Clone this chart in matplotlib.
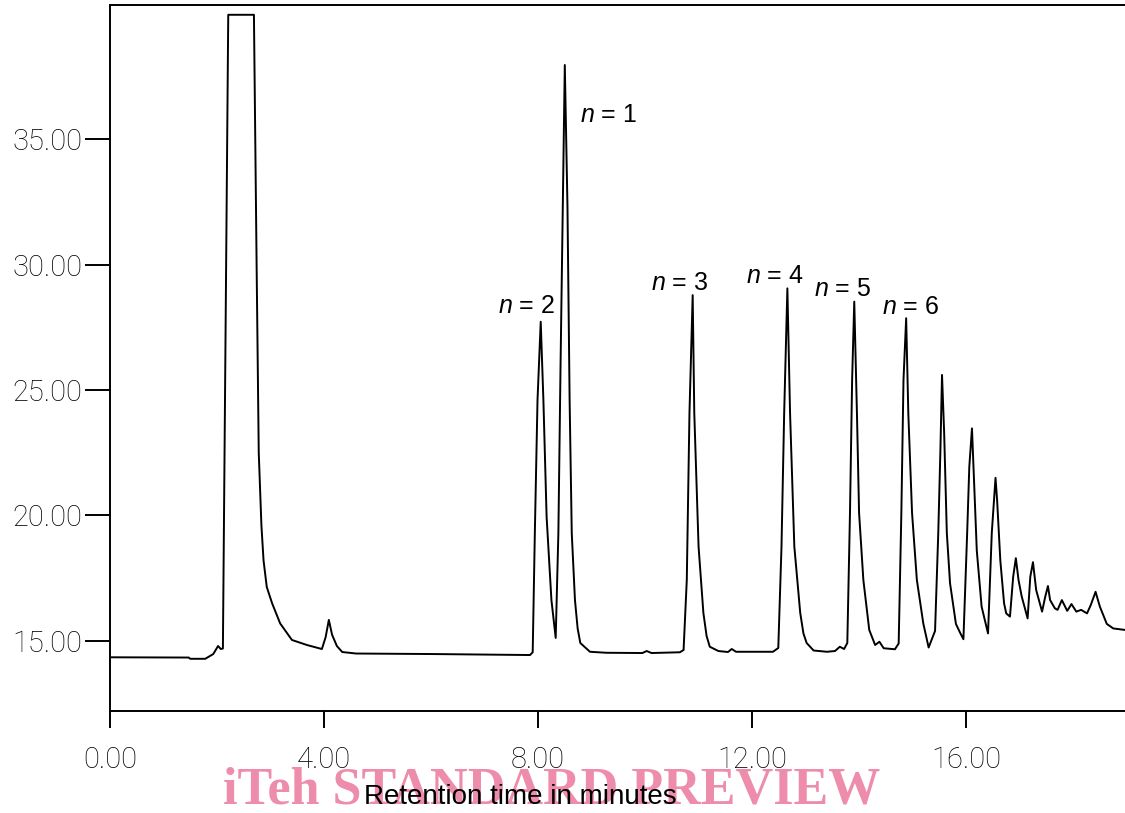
import matplotlib
matplotlib.use("Agg")
import matplotlib.pyplot as plt

plt.rcParams["mathtext.fontset"] = "custom"
plt.rcParams["mathtext.it"] = "Liberation Sans:italic"
plt.rcParams["mathtext.rm"] = "Liberation Sans"

# chromatogram trace (minutes, detector signal)
time_min = [
    0.00, 1.47, 1.50, 1.78, 1.93, 2.02, 2.07, 2.11, 2.21, 2.69,
    2.74, 2.78, 2.83, 2.87, 2.93, 3.03, 3.18, 3.40, 3.68, 3.96,
    4.03, 4.09, 4.15, 4.24, 4.34, 4.60, 6.00, 7.85, 7.90, 7.94,
    7.99, 8.05, 8.10, 8.16, 8.25, 8.33, 8.38, 8.42, 8.50, 8.55,
    8.59, 8.63, 8.69, 8.74, 8.79, 8.97, 9.28, 9.95, 10.03, 10.12, 10.65,
    10.72, 10.78, 10.83, 10.89, 10.92, 11.00, 11.09, 11.15, 11.21, 11.37, 11.55,
    11.62, 11.70, 12.39, 12.49, 12.55, 12.60, 12.66, 12.71, 12.79, 12.90,
    12.96, 13.02, 13.15, 13.40, 13.55, 13.64, 13.72, 13.78, 13.83, 13.87, 13.91,
    13.96, 14.00, 14.08, 14.19, 14.30, 14.38, 14.46, 14.67, 14.74, 14.79,
    14.83, 14.88, 14.92, 14.99, 15.08, 15.20, 15.30, 15.42, 15.48, 15.52,
    15.55, 15.59, 15.64, 15.70, 15.81, 15.89, 15.95, 16.02, 16.06, 16.11,
    16.15, 16.20, 16.29, 16.41, 16.48, 16.55, 16.58, 16.64, 16.71, 16.75,
    16.82, 16.88, 16.93, 16.98, 17.04, 17.15, 17.20, 17.25, 17.31, 17.42,
    17.48, 17.53, 17.57, 17.66, 17.71, 17.79, 17.89, 17.97, 18.06, 18.15,
    18.26, 18.33, 18.42, 18.50, 18.63, 18.75, 18.97,
]
signal = [
    14.35, 14.34, 14.29, 14.29, 14.48, 14.80, 14.68, 14.70, 39.95, 39.95,
    30.00, 22.50, 19.60, 18.20, 17.15, 16.50, 15.70, 15.04, 14.84, 14.68,
    15.15, 15.84, 15.25, 14.80, 14.56, 14.50, 14.48, 14.44, 14.55, 19.30,
    24.60, 27.72, 24.60, 19.95, 16.63, 15.12, 19.30, 25.90, 37.95, 32.30,
    24.60, 19.30, 16.63, 15.50, 14.92, 14.57, 14.53, 14.52, 14.60, 14.52, 14.55,
    14.64, 17.43, 24.08, 28.78, 24.08, 18.76, 16.12, 15.20, 14.77, 14.60, 14.56,
    14.68, 14.57, 14.57, 14.72, 18.76, 24.08, 29.05, 24.08, 18.76, 16.12,
    15.30, 14.92, 14.62, 14.57, 14.60, 14.77, 14.68, 14.92, 20.10, 25.40, 28.52,
    24.08, 20.10, 17.43, 15.44, 14.84, 14.97, 14.71, 14.67, 14.90, 20.10,
    25.40, 27.86, 24.08, 20.10, 17.43, 15.70, 14.74, 15.40, 19.30, 22.60,
    25.60, 23.30, 19.30, 17.30, 15.68, 15.32, 15.07, 19.30, 21.94, 23.47,
    21.30, 18.60, 16.37, 15.30, 19.30, 21.50, 20.60, 18.20, 16.50, 16.10,
    15.97, 17.56, 18.30, 17.43, 16.77, 15.90, 17.56, 18.14, 17.03, 16.17,
    16.77, 17.19, 16.63, 16.30, 16.24, 16.63, 16.20, 16.47, 16.17, 16.24,
    16.10, 16.43, 16.96, 16.37, 15.68, 15.50, 15.44,
]

# peak labels
peak_names = ["1", "2", "3", "4", "5", "6"]
label_x = [8.79, 7.78, 10.65, 12.43, 13.70, 14.97]
label_y = [35.96, 28.35, 29.26, 29.54, 29.02, 28.31]

x_ticks = [0, 4, 8, 12, 16]
y_ticks = [15, 20, 25, 30, 35]

fig = plt.figure(figsize=(11.25, 8.13), dpi=100)
ax = fig.add_axes([110 / 1125, 1 - 711 / 813, 1 - 110 / 1125, (711 - 5) / 813])

ax.plot(time_min, signal, color="black", lw=1.4)

ax.set_xlim(0, 18.97)
ax.set_ylim(12.21, 40.34)

ax.spines["right"].set_visible(False)
for s in ["left", "bottom", "top"]:
    ax.spines[s].set_linewidth(1.4)

tick_font = {"family": ["Roboto", "DejaVu Sans"], "weight": "light", "size": 21}
ax.set_xticks(x_ticks)
ax.set_xticklabels([f"{v:.2f}" for v in x_ticks], fontdict=tick_font)
ax.set_yticks(y_ticks)
ax.set_yticklabels([f"{v:.2f}" for v in y_ticks], fontdict=tick_font)
ax.tick_params(axis="x", direction="out", length=12, width=1.4, pad=13, colors="black")
ax.tick_params(axis="y", direction="out", length=18, width=1.4, pad=2, colors="black")

for name, lx, ly in zip(peak_names, label_x, label_y):
    ha = "left" if name == "1" else "center"
    ax.text(lx, ly, rf"$n$ = {name}", ha=ha, va="center", fontsize=18,
            family="Liberation Sans")

# watermark and axis caption
fig.text(552 / 1125, 1 - 790 / 813, "iTeh STANDARD PREVIEW", ha="center", va="center",
         fontsize=37.5, family="Liberation Serif", weight="bold", color="#EE8CAB", zorder=5)
fig.text(520 / 1125, 1 - 797 / 813, "Retention time in minutes", ha="center", va="center",
         fontsize=20, family="Liberation Sans", color="black", zorder=6)

fig.savefig("out.png", dpi=100)
